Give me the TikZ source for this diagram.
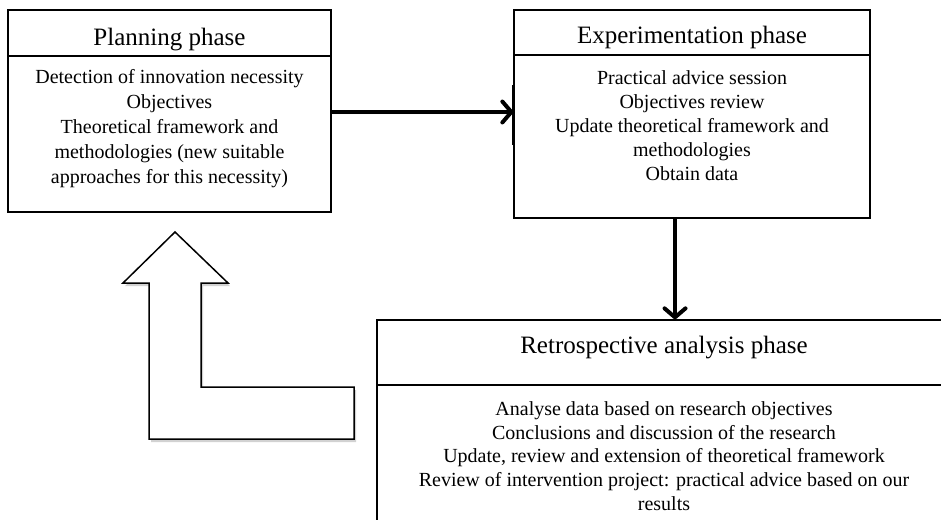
\documentclass[tikz,border=0pt]{standalone}
\usepackage{fontspec}
\setmainfont{Liberation Serif}
\usetikzlibrary{arrows.meta,shadows}
\tikzset{
  box/.style={draw, line width=1.3pt, fill=white, inner sep=0pt},
  ttl/.style={font=\fontsize{25}{30}\selectfont, inner sep=0pt},
  body/.style={font=\fontsize{20}{25}\selectfont, align=center, inner sep=0pt},
  thickarrow/.style={line width=3.8pt, -{Straight Barb[length=9pt,width=21pt,line width=4pt,round]},
     drop shadow={opacity=0.25, shadow xshift=1pt, shadow yshift=-2pt}},
  bigarrow/.style={draw, line width=1.5pt, fill=white, line join=miter,
     drop shadow={opacity=0.35, shadow xshift=2pt, shadow yshift=-3pt}},
}
\begin{document}
\begin{tikzpicture}[x=1pt,y=-1pt]
\clip (0,0) rectangle (941,519);
\fill[white] (0,0) rectangle (941,519);

% Planning phase
\node[box, minimum width=323pt, minimum height=202pt] (plan) at (169.5,111) {};
\draw[line width=1.3pt] (plan.west |- 0,56) -- (plan.east |- 0,56);
\node[ttl] (plantitle) at (169.5,40) {Planning phase};
\node[body] (planbody) at (169.5,129) {Detection of innovation necessity\\Objectives\\Theoretical framework and\\methodologies (new suitable\\approaches for this necessity)};

% Experimentation phase
\node[box, minimum width=356pt, minimum height=208pt] (exp) at (692,114) {};
\draw[line width=1.3pt] (exp.west |- 0,55) -- (exp.east |- 0,55);
\draw[line width=3.5pt] (exp.west |- 0,85) -- (exp.west |- 0,145);
\node[ttl] (exptitle) at (692,37) {Experimentation phase};
\node[body, font=\fontsize{20}{24}\selectfont] (expbody) at (692,126) {Practical advice session\\Objectives review\\Update theoretical framework and\\methodologies\\Obtain data};

% Retrospective analysis phase
\node[box, minimum width=574pt, minimum height=220pt] (retro) at (664,430) {};
\draw[line width=1.3pt] (retro.west |- 0,385) -- (retro.east |- 0,385);
\node[ttl] (retrotitle) at (664,348) {Retrospective analysis phase};
\node[body, font=\fontsize{20}{23.8}\selectfont] (retrobody) at (664,456) {Analyse data based on research objectives\\Conclusions and discussion of the research\\Update, review and extension of theoretical framework\\Review of intervention project: practical advice based on our\\results};

% connectors
\draw[thickarrow] (plan.east |- 0,112) -- (exp.west |- 0,112);
\draw[thickarrow] (exp.south -| 675,0) -- (retro.north -| 675,0);

% big outline feedback arrow
\draw[bigarrow] (175,232) -- (228,283) -- (201,283) -- (201,387) -- (354,387)
  -- (354,439) -- (149,439) -- (149,283) -- (123,283) -- cycle;
\end{tikzpicture}
\end{document}
